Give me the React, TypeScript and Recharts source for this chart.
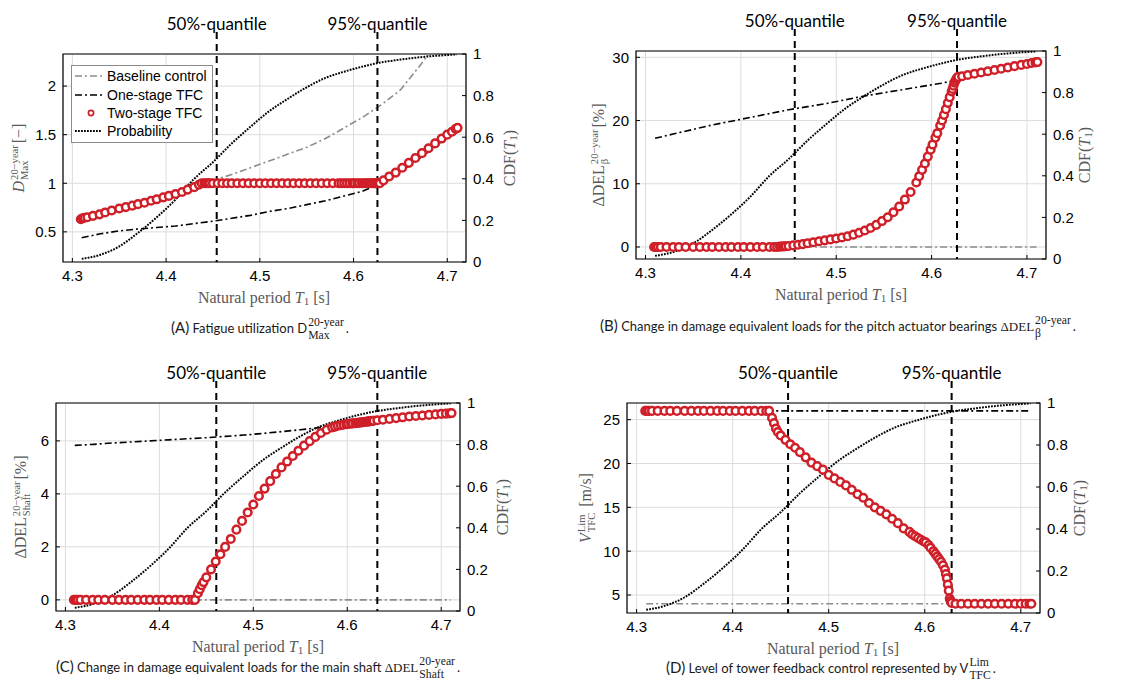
import React from "react";
import {
  ComposedChart,
  Line,
  Scatter,
  XAxis,
  YAxis,
  CartesianGrid,
  ReferenceLine,
  ReferenceArea,
  Legend,
} from "recharts";

// ---- data ----
const LINE_T = [
  4.31, 4.33, 4.35, 4.37, 4.39, 4.41, 4.43, 4.45, 4.47, 4.49, 4.51, 4.53, 4.55,
  4.57, 4.59, 4.61, 4.63, 4.65, 4.67, 4.69, 4.71,
];

const PROBABILITY = [
  0.015, 0.035, 0.075, 0.14, 0.215, 0.3, 0.4, 0.48, 0.57, 0.65, 0.725, 0.785,
  0.84, 0.885, 0.915, 0.94, 0.96, 0.973, 0.984, 0.992, 0.998,
];

const A_BASELINE = [
  0.64, 0.69, 0.75, 0.8, 0.86, 0.92, 0.98, 1.03, 1.09, 1.16, 1.23, 1.3, 1.37,
  1.46, 1.57, 1.68, 1.81, 1.96, 2.2, 2.45, 2.7,
];
const A_ONE_STAGE = [
  0.44, 0.48, 0.51, 0.53, 0.545, 0.56, 0.585, 0.61, 0.64, 0.67, 0.71, 0.74,
  0.78, 0.82, 0.87, 0.92, 1.0, 1.12, 1.25, 1.4, 1.56,
];
const B_BASELINE = [0, 0, 0, 0, 0, 0, 0, 0, 0, 0, 0, 0, 0, 0, 0, 0, 0, 0, 0, 0, 0];
const B_ONE_STAGE = [
  17.2, 17.9, 18.6, 19.3, 19.9, 20.5, 21.1, 21.7, 22.2, 22.7, 23.3, 23.9, 24.4,
  24.9, 25.4, 25.9, 26.5, 27.1, 27.7, 28.3, 28.9,
];
const C_BASELINE = [0, 0, 0, 0, 0, 0, 0, 0, 0, 0, 0, 0, 0, 0, 0, 0, 0, 0, 0, 0, 0];
const C_ONE_STAGE = [
  5.83, 5.87, 5.92, 5.96, 6.0, 6.04, 6.08, 6.12, 6.17, 6.22, 6.28, 6.35, 6.42,
  6.5, 6.6, 6.68, 6.76, 6.83, 6.9, 6.97, 7.04,
];
const D_BASELINE = [4, 4, 4, 4, 4, 4, 4, 4, 4, 4, 4, 4, 4, 4, 4, 4, 4, 4, 4, 4, 4];
const D_ONE_STAGE = [
  26, 26, 26, 26, 26, 26, 26, 26, 26, 26, 26, 26, 26, 26, 26, 26, 26, 26, 26, 26, 26,
];

// natural period samples used for the two-stage TFC markers
const T1_SAMPLES = [
  4.309, 4.311, 4.313, 4.316, 4.322, 4.329, 4.335, 4.342, 4.35, 4.357, 4.364,
  4.37, 4.377, 4.384, 4.39, 4.397, 4.403, 4.41, 4.417, 4.423, 4.43, 4.435, 4.438,
  4.441, 4.443, 4.445, 4.447, 4.45, 4.455, 4.46, 4.465, 4.47, 4.476,
  4.482, 4.488, 4.494, 4.5, 4.506, 4.512, 4.518, 4.524, 4.53, 4.536,
  4.542, 4.548, 4.554, 4.56, 4.566, 4.572, 4.578,
  4.584, 4.587, 4.59, 4.593, 4.596, 4.599, 4.601, 4.604, 4.606, 4.609, 4.611,
  4.613, 4.615, 4.617, 4.619, 4.621, 4.622, 4.623, 4.624, 4.625, 4.626, 4.627,
  4.628,
  4.632, 4.638, 4.645, 4.652, 4.659, 4.666, 4.673, 4.68, 4.687, 4.694, 4.7,
  4.705, 4.709, 4.711,
];

const A_TWO_STAGE = [
  0.63, 0.64, 0.645, 0.65, 0.665, 0.68, 0.7, 0.72, 0.74, 0.755, 0.77, 0.785,
  0.8, 0.82, 0.835, 0.855, 0.87, 0.89, 0.91, 0.935, 0.96, 0.985, 1.0,
  1, 1, 1, 1, 1, 1, 1, 1, 1, 1,
  1, 1, 1, 1, 1, 1, 1, 1, 1, 1,
  1, 1, 1, 1, 1, 1, 1,
  1, 1, 1, 1, 1, 1, 1, 1, 1, 1, 1, 1, 1, 1, 1, 1, 1, 1, 1, 1, 1, 1, 1,
  1.03, 1.07, 1.11, 1.16, 1.21, 1.26, 1.31, 1.36, 1.41, 1.46, 1.5, 1.53, 1.56,
  1.57,
];
const B_TWO_STAGE = [
  0, 0, 0, 0, 0, 0, 0, 0, 0, 0, 0, 0, 0, 0, 0, 0, 0, 0, 0, 0, 0, 0, 0,
  0.05, 0.08, 0.1, 0.12, 0.15, 0.25, 0.35, 0.45, 0.6, 0.75,
  0.9, 1.05, 1.2, 1.35, 1.5, 1.7, 1.95, 2.25, 2.6, 3.0,
  3.5, 4.1, 4.7, 5.5, 6.4, 7.5, 8.7,
  10.2, 11.2, 12.2, 13.2, 14.3, 15.4, 16.2, 17.3, 18.0, 19.2, 20.0, 20.9, 21.8,
  22.8, 23.7, 24.6, 25.0, 25.5, 26.0, 26.3, 26.6, 26.8, 26.9,
  27.0, 27.2, 27.4, 27.6, 27.8, 28.0, 28.2, 28.4, 28.6, 28.8, 28.95, 29.1, 29.2,
  29.25,
];
const C_TWO_STAGE = [
  0, 0, 0, 0, 0, 0, 0, 0, 0, 0, 0, 0, 0, 0, 0, 0, 0, 0, 0, 0, 0, 0, 0,
  0.25, 0.4, 0.55, 0.67, 0.85, 1.15, 1.45, 1.72, 2.0, 2.3,
  2.65, 2.98, 3.3, 3.6, 3.92, 4.2, 4.48, 4.75, 5.0, 5.22,
  5.43, 5.63, 5.82, 5.99, 6.15, 6.3, 6.42,
  6.51, 6.54, 6.57, 6.59, 6.61, 6.63, 6.64, 6.65, 6.66, 6.67, 6.68, 6.69, 6.7,
  6.71, 6.72, 6.725, 6.73, 6.735, 6.74, 6.745, 6.75, 6.755, 6.76,
  6.78, 6.8, 6.83, 6.86, 6.89, 6.92, 6.94, 6.96, 6.98, 7.0, 7.02, 7.03, 7.04,
  7.05,
];
const D_TWO_STAGE = [
  26, 26, 26, 26, 26, 26, 26, 26, 26, 26, 26, 26, 26, 26, 26, 26, 26, 26, 26,
  26, 26, 26, 26,
  25.2, 24.6, 24.0, 23.6, 23.2, 22.7, 22.2, 21.8, 21.3, 20.7,
  20.1, 19.7, 19.3, 18.7, 18.3, 17.9, 17.5, 17.0, 16.5, 16.1,
  15.5, 15.0, 14.6, 14.2, 13.7, 13.2, 12.6,
  12.2, 11.9, 11.7, 11.5, 11.3, 11.1, 11.0, 10.7, 10.4, 10.0, 9.7, 9.4, 9.1,
  8.8, 8.4, 7.9, 7.4, 6.9, 6.2, 5.5, 4.6, 4.3, 4.1,
  4, 4, 4, 4, 4, 4, 4, 4, 4, 4, 4, 4, 4, 4,
];

const QUANTILE_LABELS = ["50%-quantile", "95%-quantile"];
const A_QUANTILES = [4.454, 4.6255];
const B_QUANTILES = [4.4565, 4.6267];
const C_QUANTILES = [4.4606, 4.632];
const D_QUANTILES = [4.4577, 4.628];

const X_TICKS = [4.3, 4.4, 4.5, 4.6, 4.7];
const CDF_TICKS = [0, 0.2, 0.4, 0.6, 0.8, 1];
const A_TICKS = [0.5, 1, 1.5, 2];
const B_TICKS = [0, 10, 20, 30];
const C_TICKS = [0, 2, 4, 6];
const D_TICKS = [5, 10, 15, 20, 25];

const LEGEND_NAMES = ["Baseline control", "One-stage TFC", "Two-stage TFC", "Probability"];

// ---- styling ----
const RED = "#cf1f28";
const GRAY = "#8c8c8c";
const LABEL = "#595959";
const SANS = "'Liberation Sans', Arial, sans-serif";
const SERIF = "'Liberation Serif', 'Times New Roman', serif";
const CAPTION = "Lato, 'Open Sans', sans-serif";
const X_DOMAIN: [number, number] = [4.29, 4.72];

type Box = { left: number; top: number; width: number; height: number };

const Ring = (props: any) => (
  <circle cx={props.cx} cy={props.cy} r={3.8} fill="#fff" stroke={RED} strokeWidth={2.5} />
);

// dashed quantile line that runs a bit above the plot box
const QuantileLine = (props: any) => {
  const top = Math.min(props.y1, props.y2);
  const bottom = Math.max(props.y1, props.y2);
  return (
    <line
      x1={props.x1}
      x2={props.x2}
      y1={top - 22}
      y2={bottom}
      stroke="#000"
      strokeWidth={2}
      strokeDasharray="7 5"
    />
  );
};

const LegendBox = () => (
  <div
    style={{
      border: "1px solid #8c8c8c",
      background: "#fff",
      padding: "1px 5px 1px 2px",
      fontFamily: SANS,
      fontSize: 14,
      color: "#000",
    }}
  >
    {LEGEND_NAMES.map((name, i) => (
      <div key={name} style={{ display: "flex", alignItems: "center", height: 18.4 }}>
        <svg width={30} height={18} style={{ marginRight: 3 }}>
          {i === 0 && <line x1={1} x2={28} y1={9} y2={9} stroke={GRAY} strokeWidth={1.6} strokeDasharray="7 3 2 3" />}
          {i === 1 && <line x1={1} x2={28} y1={9} y2={9} stroke="#000" strokeWidth={1.6} strokeDasharray="7 3 2 3" />}
          {i === 2 && <circle cx={17} cy={9} r={2.6} fill="#fff" stroke={RED} strokeWidth={1.7} />}
          {i === 3 && <line x1={1} x2={28} y1={9} y2={9} stroke="#000" strokeWidth={1.8} strokeDasharray="1.8 1.2" />}
        </svg>
        <span>{name}</span>
      </div>
    ))}
  </div>
);

interface PanelProps {
  box: Box;
  yDomain: [number, number];
  yTicks: number[];
  baseline: number[];
  oneStage: number[];
  twoStage: number[];
  quantiles: number[];
  legend?: boolean;
}

const tickStyle = { fill: "#000", fontSize: 15, fontFamily: SANS };

const Panel = ({ box, yDomain, yTicks, baseline, oneStage, twoStage, quantiles, legend }: PanelProps) => {
  const lineRows = LINE_T.map((t, i) => ({
    t,
    base: baseline[i],
    one: oneStage[i],
    prob: PROBABILITY[i],
  }));
  const ringRows = T1_SAMPLES.map((t, i) => ({ t, v: twoStage[i] }));

  return (
    <div style={{ position: "absolute", left: box.left - 60, top: box.top - 50 }}>
      <ComposedChart
        width={box.width + 120}
        height={box.height + 80}
        data={lineRows}
        margin={{ top: 50, right: 20, bottom: 0, left: 20 }}
      >
        <CartesianGrid yAxisId="left" stroke="#dcdcdc" />
        <XAxis
          dataKey="t"
          type="number"
          domain={X_DOMAIN}
          allowDataOverflow
          ticks={X_TICKS}
          height={30}
          axisLine={false}
          tickLine={{ stroke: "#000" }}
          tickSize={-4}
          tickMargin={12}
          tick={tickStyle}
        />
        <YAxis
          yAxisId="left"
          type="number"
          domain={yDomain}
          allowDataOverflow
          ticks={yTicks}
          width={40}
          axisLine={false}
          tickLine={{ stroke: "#000" }}
          tickSize={-4}
          tickMargin={11}
          tick={tickStyle}
        />
        <YAxis
          yAxisId="right"
          orientation="right"
          type="number"
          domain={[0, 1]}
          allowDataOverflow
          ticks={CDF_TICKS}
          width={40}
          axisLine={false}
          tickLine={{ stroke: "#000" }}
          tickSize={-4}
          tickMargin={11}
          tick={tickStyle}
        />
        <ReferenceArea
          yAxisId="left"
          x1={X_DOMAIN[0]}
          x2={X_DOMAIN[1]}
          y1={yDomain[0]}
          y2={yDomain[1]}
          fill="none"
          stroke="#000"
          strokeWidth={1.2}
          ifOverflow="visible"
        />
        <Line
          yAxisId="left"
          dataKey="base"
          type="linear"
          stroke={GRAY}
          strokeWidth={1.6}
          strokeDasharray="7 3 2 3"
          dot={false}
          activeDot={false}
          isAnimationActive={false}
        />
        <Line
          yAxisId="left"
          dataKey="one"
          type="linear"
          stroke="#000"
          strokeWidth={1.6}
          strokeDasharray="7 3 2 3"
          dot={false}
          activeDot={false}
          isAnimationActive={false}
        />
        <Scatter yAxisId="left" data={ringRows} dataKey="v" shape={Ring} isAnimationActive={false} />
        <Line
          yAxisId="right"
          dataKey="prob"
          type="monotone"
          stroke="#000"
          strokeWidth={2}
          strokeDasharray="1.8 1.2"
          dot={false}
          activeDot={false}
          isAnimationActive={false}
        />
        {quantiles.map((q, i) => (
          <ReferenceLine
            key={i}
            yAxisId="left"
            x={q}
            shape={QuantileLine}
            ifOverflow="visible"
            label={{
              value: QUANTILE_LABELS[i],
              position: "top",
              offset: 24,
              fill: "#000",
              fontSize: 17,
              fontFamily: CAPTION,
            }}
          />
        ))}
        {legend && (
          <Legend
            layout="vertical"
            align="center"
            verticalAlign="middle"
            wrapperStyle={{ left: 68, top: 61, width: "auto", height: "auto" }}
            content={() => <LegendBox />}
          />
        )}
      </ComposedChart>
    </div>
  );
};

const Place = ({ x, y, rotate, style, children }: any) => (
  <div
    style={{
      position: "absolute",
      left: x,
      top: y,
      transform: `translate(-50%, -50%)${rotate ? " rotate(-90deg)" : ""}`,
      whiteSpace: "nowrap",
      ...style,
    }}
  >
    {children}
  </div>
);

const Stack = ({
  sup,
  sub,
  size = 0.66,
  lh = 0.95,
}: {
  sup: string;
  sub: string;
  size?: number;
  lh?: number;
}) => (
  <span
    style={{
      display: "inline-flex",
      flexDirection: "column",
      alignItems: "flex-start",
      fontSize: `${size}em`,
      lineHeight: lh,
      verticalAlign: "0.6em",
      fontFamily: SERIF,
      marginLeft: 1,
      marginRight: 2,
    }}
  >
    <span>{sup}</span>
    <span>{sub}</span>
  </span>
);

const Sub1 = () => <span style={{ fontSize: "0.7em", verticalAlign: "-0.25em" }}>1</span>;

const axisTitle = { fontFamily: SERIF, fontSize: 16, color: LABEL };
const captionStyle = { fontFamily: CAPTION, fontSize: 13, color: "#1a1a1a", lineHeight: 1 };

const XTitle = ({ x, y }: { x: number; y: number }) => (
  <Place x={x} y={y} style={axisTitle}>
    Natural period <i>T</i>
    <Sub1 /> [s]
  </Place>
);

const CdfTitle = ({ x, y }: { x: number; y: number }) => (
  <Place x={x} y={y} rotate style={axisTitle}>
    CDF(<i>T</i>
    <Sub1 />)
  </Place>
);

const Tag = ({ t }: { t: string }) => <span style={{ fontSize: 15 }}>({t})</span>;

export default function App() {
  return (
    <div style={{ position: "relative", width: 1134, height: 685, background: "#fff", overflow: "hidden" }}>
      <style>{"body{margin:0;background:#fff}"}</style>

      <Panel
        box={{ left: 63, top: 54, width: 403, height: 208 }}
        yDomain={[0.19, 2.33]}
        yTicks={A_TICKS}
        baseline={A_BASELINE}
        oneStage={A_ONE_STAGE}
        twoStage={A_TWO_STAGE}
        quantiles={A_QUANTILES}
        legend
      />
      <Panel
        box={{ left: 636, top: 51, width: 410, height: 208 }}
        yDomain={[-1.9, 31]}
        yTicks={B_TICKS}
        baseline={B_BASELINE}
        oneStage={B_ONE_STAGE}
        twoStage={B_TWO_STAGE}
        quantiles={B_QUANTILES}
      />
      <Panel
        box={{ left: 56, top: 403, width: 404, height: 208 }}
        yDomain={[-0.42, 7.43]}
        yTicks={C_TICKS}
        baseline={C_BASELINE}
        oneStage={C_ONE_STAGE}
        twoStage={C_TWO_STAGE}
        quantiles={C_QUANTILES}
      />
      <Panel
        box={{ left: 627, top: 403, width: 413, height: 210 }}
        yDomain={[2.95, 26.9]}
        yTicks={D_TICKS}
        baseline={D_BASELINE}
        oneStage={D_ONE_STAGE}
        twoStage={D_TWO_STAGE}
        quantiles={D_QUANTILES}
      />

      {/* axis titles */}
      <Place x={20} y={158} rotate style={axisTitle}>
        <i>D</i>
        <Stack sup="20−year" sub="Max" />[−]
      </Place>
      <CdfTitle x={510} y={158} />
      <XTitle x={264} y={298} />

      <Place x={600} y={155} rotate style={axisTitle}>
        ΔDEL
        <Stack sup="20−year" sub="β" />[%]
      </Place>
      <CdfTitle x={1085} y={155} />
      <XTitle x={841} y={295} />

      <Place x={22} y={507} rotate style={axisTitle}>
        ΔDEL
        <Stack sup="20−year" sub="Shaft" />[%]
      </Place>
      <CdfTitle x={503} y={507} />
      <XTitle x={258} y={647} />

      <Place x={587} y={508} rotate style={axisTitle}>
        <i>V</i>
        <Stack sup="Lim" sub="TFC" /> [m/s]
      </Place>
      <CdfTitle x={1080} y={508} />
      <XTitle x={833} y={649} />

      {/* captions */}
      <Place x={260} y={329} style={captionStyle}>
        <Tag t="A" /> Fatigue utilization D
        <Stack sup="20-year" sub="Max" size={0.9} lh={1.15} />.
      </Place>
      <Place x={838} y={327} style={captionStyle}>
        <Tag t="B" /> Change in damage equivalent loads for the pitch actuator bearings{" "}
        <span style={{ fontFamily: SERIF }}>ΔDEL</span>
        <Stack sup="20-year" sub="β" size={0.9} lh={1.15} />.
      </Place>
      <Place x={258} y={668} style={captionStyle}>
        <Tag t="C" /> Change in damage equivalent loads for the main shaft{" "}
        <span style={{ fontFamily: SERIF }}>ΔDEL</span>
        <Stack sup="20-year" sub="Shaft" size={0.9} lh={1.15} />.
      </Place>
      <Place x={831} y={669} style={captionStyle}>
        <Tag t="D" /> Level of tower feedback control represented by V
        <Stack sup="Lim" sub="TFC" size={0.9} lh={1.15} />.
      </Place>
    </div>
  );
}
